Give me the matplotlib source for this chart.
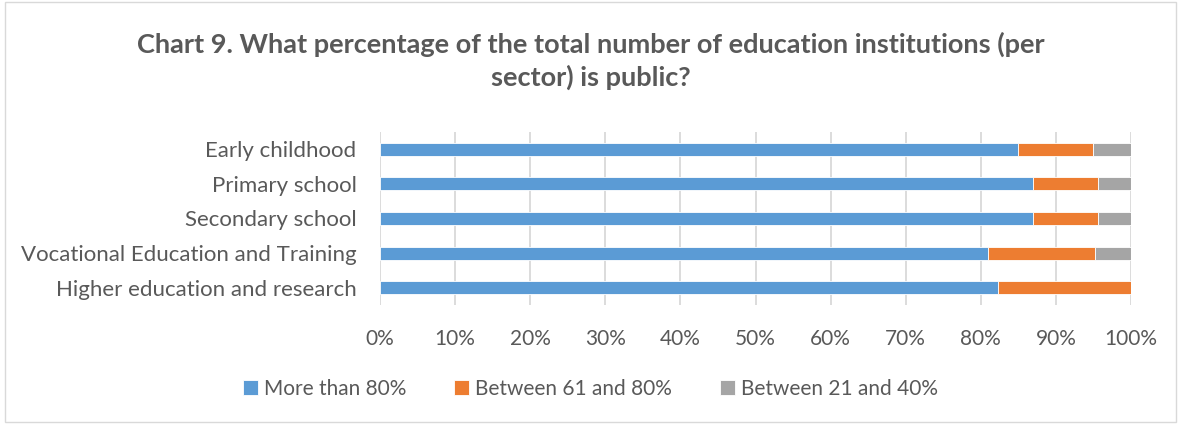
import numpy as np
import matplotlib.pyplot as plt
import matplotlib.ticker as mticker
from matplotlib.patches import Rectangle

# ── Data ──────────────────────────────────────────────────────────────────────
sectors = [
    "Early childhood",
    "Primary school",
    "Secondary school",
    "Vocational Education and Training",
    "Higher education and research",
]
more_than_80 = [85.0, 86.96, 86.96, 80.95, 82.35]
between_61_80 = [10.0, 8.70, 8.70, 14.29, 17.65]
between_21_40 = [5.0, 4.35, 4.35, 4.76, 0.0]

series_labels = ["More than 80%", "Between 61 and 80%", "Between 21 and 40%"]
COLORS = ["#5b9bd5", "#ed7d31", "#a5a5a5"]
TEXT = "#595959"

plt.rcParams.update({
    "font.family": ["Lato", "DejaVu Sans"],
    "text.color": TEXT,
})

fig = plt.figure(figsize=(11.81, 4.24), dpi=100)
fig.patches.append(Rectangle((0.004, 0.005), 0.992, 0.99, transform=fig.transFigure,
                             fill=False, edgecolor="#d9d9d9", linewidth=1))

ax = fig.add_axes([380 / 1181, 1 - 305 / 424, 751 / 1181, 173 / 424])

y = np.arange(len(sectors))
left = np.zeros(len(sectors))
for vals, lab, col in zip([more_than_80, between_61_80, between_21_40], series_labels, COLORS):
    ax.barh(y, vals, left=left, height=0.38, color=col, label=lab,
            edgecolor="white", linewidth=0.6, zorder=3)
    left += np.array(vals)

ax.set_ylim(len(sectors) - 0.5, -0.5)
ax.set_xlim(0, 100)
ax.set_yticks(y)
ax.set_yticklabels(sectors, fontsize=16, color=TEXT)
ax.set_xticks(np.arange(0, 101, 10))
ax.xaxis.set_major_formatter(mticker.FuncFormatter(lambda v, _: f"{v:.0f}%"))
ax.tick_params(axis="x", labelsize=15, labelcolor=TEXT, length=0, pad=17)
ax.tick_params(axis="y", length=0, pad=17)
ax.grid(axis="x", color="#d9d9d9", linewidth=1.3, zorder=0)
for s in ax.spines.values():
    s.set_visible(False)

fig.suptitle("Chart 9. What percentage of the total number of education institutions (per\nsector) is public?",
             y=0.925, fontsize=19.5, fontweight="bold", color=TEXT, linespacing=1.35)

fig.legend(loc="center", bbox_to_anchor=(0.5, 1 - 389 / 424), ncol=3, frameon=False,
           fontsize=15, handlelength=0.7, handleheight=0.7, handletextpad=0.3,
           columnspacing=2.3)

fig.savefig("out.png", dpi=100)
